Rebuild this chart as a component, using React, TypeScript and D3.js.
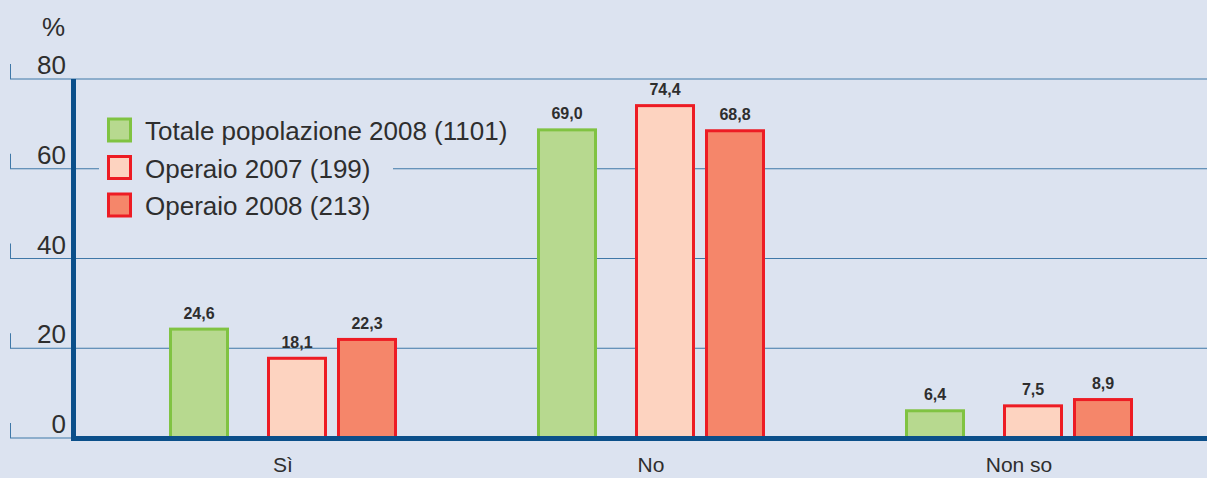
import React, { useEffect, useRef } from 'react';
import * as d3 from 'd3';

// categories and series
const categories = ['Sì', 'No', 'Non so'];
const seriesNames = ['Totale popolazione 2008 (1101)', 'Operaio 2007 (199)', 'Operaio 2008 (213)'];
const totale2008 = [24.6, 69.0, 6.4];
const operaio2007 = [18.1, 74.4, 7.5];
const operaio2008 = [22.3, 68.8, 8.9];
const yTicks = [0, 20, 40, 60, 80];

const fills = ['#b7d98f', '#fdd3c0', '#f5866a'];
const strokes = ['#80c342', '#ed1c24', '#ed1c24'];

const W = 1207;
const H = 478;
const BG = '#dce3f0';
const INK = '#2e2e2e';
const AXIS = '#0b4f8a';
const GRID = '#3f78a8';
const FONT = "'Liberation Sans', Arial, Helvetica, sans-serif";
const NARROW = "'Liberation Sans Narrow', 'Arial Narrow', 'Liberation Sans', sans-serif";

const App: React.FC = () => {
  const svgRef = useRef<SVGSVGElement>(null);

  useEffect(() => {
    if (!svgRef.current) return;
    const svg = d3.select(svgRef.current);
    svg.selectAll('*').remove();

    const series = [totale2008, operaio2007, operaio2008];

    const y = d3.scaleLinear().domain([0, 80]).range([438, 79]);
    const x = d3.scaleBand<string>().domain(categories).range([99, 1203]);
    // bars inside a group are not evenly spaced in the original
    const inner = d3.scaleOrdinal<number, number>().domain([0, 1, 2]).range([-114, -16, 54]);
    const barW = 60;
    const sw = 3;

    svg.append('rect').attr('width', W).attr('height', H).attr('fill', BG);

    // gridlines + small tick marks on the left
    const grid = svg.append('g');
    yTicks.forEach(t => {
      grid.append('line')
        .attr('x1', 10).attr('x2', W)
        .attr('y1', y(t)).attr('y2', y(t))
        .attr('stroke', GRID).attr('stroke-width', 1);
      grid.append('line')
        .attr('x1', 10.5).attr('x2', 10.5)
        .attr('y1', y(t) - 15).attr('y2', y(t))
        .attr('stroke', GRID).attr('stroke-width', 1);
      grid.append('text')
        .attr('x', 66).attr('y', y(t) - 5)
        .attr('text-anchor', 'end')
        .attr('font-family', FONT).attr('font-size', 26)
        .attr('fill', INK)
        .text(String(t));
    });

    svg.append('text')
      .attr('x', 65).attr('y', 36)
      .attr('text-anchor', 'end')
      .attr('font-family', FONT).attr('font-size', 26)
      .attr('fill', INK)
      .text('%');

    // bars
    series.forEach((vals, si) => {
      const g = svg.append('g');
      g.selectAll('rect')
        .data(vals)
        .join('rect')
        .attr('x', (_, i) => x(categories[i])! + x.bandwidth() / 2 + inner(si) + sw / 2)
        .attr('y', d => y(d) + sw / 2)
        .attr('width', barW - sw)
        .attr('height', d => y(0) - y(d) - sw / 2)
        .attr('fill', fills[si])
        .attr('stroke', strokes[si])
        .attr('stroke-width', sw);
      g.selectAll('text')
        .data(vals)
        .join('text')
        .attr('x', (_, i) => x(categories[i])! + x.bandwidth() / 2 + inner(si) + barW / 2)
        .attr('y', d => y(d) - 9)
        .attr('text-anchor', 'middle')
        .attr('font-family', NARROW).attr('font-size', 16).attr('font-weight', 'bold')
        .attr('fill', INK)
        .text(d => d.toFixed(1).replace('.', ','));
    });

    // axes
    svg.append('line')
      .attr('x1', 73.5).attr('x2', 73.5)
      .attr('y1', y(80)).attr('y2', 441)
      .attr('stroke', AXIS).attr('stroke-width', 5);
    svg.append('line')
      .attr('x1', 71).attr('x2', W)
      .attr('y1', 438.5).attr('y2', 438.5)
      .attr('stroke', AXIS).attr('stroke-width', 5);

    // category labels
    svg.append('g').selectAll('text')
      .data(categories)
      .join('text')
      .attr('x', d => x(d)! + x.bandwidth() / 2)
      .attr('y', 472)
      .attr('text-anchor', 'middle')
      .attr('font-family', FONT).attr('font-size', 21)
      .attr('fill', INK)
      .text(d => d);

    // legend with background box over the gridline
    const legend = svg.append('g');
    legend.append('rect')
      .attr('x', 99).attr('y', 105).attr('width', 294).attr('height', 125)
      .attr('fill', BG);
    seriesNames.forEach((name, i) => {
      const top = 119 + i * 37.5;
      legend.append('rect')
        .attr('x', 108.5).attr('y', top)
        .attr('width', 22).attr('height', 22)
        .attr('fill', fills[i])
        .attr('stroke', strokes[i])
        .attr('stroke-width', sw);
      legend.append('text')
        .attr('x', 145).attr('y', top + 21)
        .attr('font-family', FONT).attr('font-size', 26)
        .attr('fill', INK)
        .text(name);
    });
  }, []);

  return (
    <svg
      ref={svgRef}
      width={W}
      height={H}
      style={{ position: 'fixed', left: 0, top: 0, display: 'block' }}
    />
  );
};

export default App;
